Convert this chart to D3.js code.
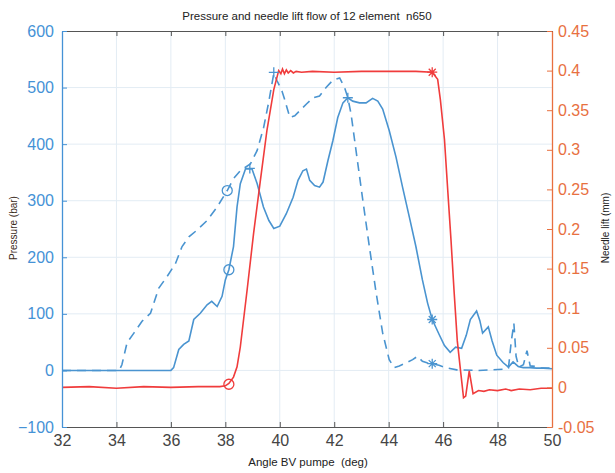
<!DOCTYPE html>
<html><head><meta charset="utf-8">
<script src="https://cdn.jsdelivr.net/npm/d3@7/dist/d3.min.js"></script>
<style>body{margin:0;background:#fff}svg{display:block}text{white-space:pre}</style>
</head><body><svg id="c" width="615" height="473"></svg>
<script>
// ---- data ----
const xTicks = [32,34,36,38,40,42,44,46,48,50];
const pTicks = [-100,0,100,200,300,400,500,600];
const lTicks = [-0.05,0,0.05,0.1,0.15,0.2,0.25,0.3,0.35,0.4,0.45];

const solidDeg = [32,36.0,36.1,36.29,36.47,36.66,36.84,37.08,37.33,37.5,37.7,37.88,38.0,38.13,38.3,38.43,38.55,38.74,38.98,39.17,39.4,39.6,39.78,40.0,40.24,40.49,40.67,40.85,40.98,41.1,41.28,41.46,41.59,41.77,41.95,42.13,42.32,42.5,42.68,42.93,43.17,43.41,43.6,43.78,44.02,44.27,44.51,44.76,45.0,45.24,45.43,45.6,45.85,46.05,46.26,46.46,46.68,46.85,47.0,47.23,47.35,47.45,47.66,47.8,47.97,48.2,48.4,48.57,48.76,48.94,49.19,49.43,49.68,50];
const solidP   = [0,0,5,37,46,52,90,101,116,122,113,131,160,178,219,289,330,356,356,330,289,265,251,255,277,306,336,353,356,336,327,324,333,371,406,447,473,482,476,473,473,481,476,462,424,377,324,271,219,160,119,90,64,44,32,41,39,62,90,105,88,66,77,52,27,14,6,15,7,5,5,4,4,3];

const dashDeg = [32,34.1,34.2,34.39,34.64,34.94,35.25,35.55,35.86,36.17,36.41,36.66,36.96,37.33,37.7,38.07,38.3,38.55,38.92,39.17,39.41,39.6,39.78,39.9,40.08,40.18,40.37,40.55,40.73,40.98,41.22,41.46,41.7,41.95,42.2,42.38,42.5,42.62,42.8,43.05,43.29,43.54,43.78,44.02,44.2,44.39,44.63,44.88,45.06,45.24,45.43,45.6,45.85,46.1,46.5,47.3,48.2,48.4,48.5,48.6,48.68,48.78,48.95,49.08,49.2,49.4,49.6,50];
const dashP   = [0,0,10,49,66,87,101,145,166,189,219,236,248,265,289,318,339,353,365,389,430,476,525,512,494,479,447,450,459,471,482,485,500,513,517,500,482,453,389,301,219,137,66,19,5,8,13,19,25,16,13,12,9,5,1,0,2,4,50,83,25,6,10,35,8,7,4,4];

const liftDeg = [32,33,34,35,36,37,37.8,38.0,38.13,38.3,38.43,38.55,38.8,39.04,39.29,39.53,39.78,39.96,40.04,40.1,40.17,40.24,40.31,40.4,40.5,40.6,40.8,41.2,42,43,44,45,45.6,45.8,45.9,46.05,46.17,46.29,46.4,46.52,46.65,46.75,46.83,46.96,47.1,47.3,47.5,47.7,48.0,48.3,48.5,48.8,49.2,49.6,50];
const liftMM  = [0,0.001,-0.001,0.001,0,0.001,0.001,0.002,0.005,0.013,0.026,0.051,0.123,0.195,0.262,0.325,0.376,0.400,0.396,0.402,0.396,0.401,0.397,0.400,0.397,0.399,0.398,0.399,0.398,0.399,0.399,0.399,0.398,0.389,0.363,0.313,0.249,0.186,0.123,0.059,0.018,-0.013,-0.011,0.021,-0.008,-0.004,-0.005,-0.003,-0.004,-0.002,-0.004,-0.002,-0.003,-0.001,-0.001];

// markers: [deg, value, type]
const solidMarkers = [[38.13,178,"o"],[38.9,357,"+"],[42.5,482,"+"],[45.6,90,"*"]];
const dashMarkers  = [[38.07,318,"o"],[39.78,527,"+"],[45.6,12,"*"]];
const liftMarkers  = [[38.13,0.004,"o"],[45.6,0.398,"*"]];

// ---- layout ----
const L = 62, R = 552, T = 31, B = 427;
const blue = "#4a94d0", red = "#f03c3c", blueAx = "#4592d6", orangeAx = "#e8703f";
const svg = d3.select("#c");
const x = d3.scaleLinear().domain([32,50]).range([L,R]);
const yP = d3.scaleLinear().domain([-100,600]).range([B,T]);
const yL = d3.scaleLinear().domain([-0.05,0.45]).range([B,T]);

// grid
const g = svg.append("g");
g.selectAll("line.vx").data(xTicks.slice(1,-1)).join("line")
  .attr("x1",d=>x(d)).attr("x2",d=>x(d)).attr("y1",T).attr("y2",B)
  .attr("stroke","#e3ecf4").attr("stroke-width",1);
g.selectAll("line.hy").data(pTicks.slice(1,-1)).join("line")
  .attr("y1",d=>yP(d)).attr("y2",d=>yP(d)).attr("x1",L).attr("x2",R)
  .attr("stroke","#e3ecf4").attr("stroke-width",1);

// lines
const lineP = (xs,ys)=>d3.line().x((d,i)=>x(xs[i])).y((d,i)=>yP(ys[i]))(xs);
svg.append("path").attr("d",lineP(dashDeg,dashP)).attr("fill","none").attr("stroke",blue)
  .attr("stroke-width",1.6).attr("stroke-dasharray","9,6");
svg.append("path").attr("d",lineP(solidDeg,solidP)).attr("fill","none").attr("stroke",blue)
  .attr("stroke-width",1.6);
const liftLine = d3.line().x((d,i)=>x(liftDeg[i])).y((d,i)=>yL(liftMM[i]));
svg.append("path").attr("d",liftLine(liftDeg)).attr("fill","none").attr("stroke",red)
  .attr("stroke-width",1.6);

// markers
function marker(px,py,type,color){
  const s = 5;
  if(type==="o"){
    svg.append("circle").attr("cx",px).attr("cy",py).attr("r",s).attr("fill","none").attr("stroke",color).attr("stroke-width",1.3);
  } else {
    let d = `M${px-s},${py}H${px+s}M${px},${py-s}V${py+s}`;
    if(type==="*") d += `M${px-3.5},${py-3.5}L${px+3.5},${py+3.5}M${px-3.5},${py+3.5}L${px+3.5},${py-3.5}`;
    svg.append("path").attr("d",d).attr("stroke",color).attr("stroke-width",1.3).attr("fill","none");
  }
}
solidMarkers.forEach(m=>marker(x(m[0]),yP(m[1]),m[2],blue));
dashMarkers.forEach(m=>marker(x(m[0]),yP(m[1]),m[2],blue));
liftMarkers.forEach(m=>marker(x(m[0]),yL(m[1]),m[2],red));

// axes
const font = "Liberation Sans, Arial, sans-serif";
const axB = svg.append("g").attr("transform",`translate(0,${B})`)
  .call(d3.axisBottom(x).tickValues(xTicks).tickSizeInner(-5).tickSizeOuter(0).tickPadding(8).tickFormat(d3.format("d")));
axB.select(".domain").attr("stroke","#555");
axB.selectAll("line").attr("stroke","#555");
axB.selectAll("text").attr("fill","#444").style("font-family",font).style("font-size","16px");

const axT = svg.append("g").attr("transform",`translate(0,${T})`)
  .call(d3.axisTop(x).tickValues(xTicks).tickSizeInner(-5).tickSizeOuter(0).tickFormat(""));
axT.select(".domain").attr("stroke","#555");
axT.selectAll("line").attr("stroke","#555");

const axL = svg.append("g").attr("transform",`translate(${L},0)`)
  .call(d3.axisLeft(yP).tickValues(pTicks).tickSizeInner(-5).tickSizeOuter(0).tickPadding(8).tickFormat(d3.format("d")));
axL.select(".domain").attr("stroke",blueAx).attr("stroke-width",1.3);
axL.selectAll("line").attr("stroke",blueAx);
axL.selectAll("text").attr("fill",blueAx).style("font-family",font).style("font-size","16px");

const axR = svg.append("g").attr("transform",`translate(${R},0)`)
  .call(d3.axisRight(yL).tickValues(lTicks).tickSizeInner(-5).tickSizeOuter(0).tickPadding(6).tickFormat(d=>String(+d.toFixed(2))));
axR.select(".domain").attr("stroke",orangeAx).attr("stroke-width",1.3);
axR.selectAll("line").attr("stroke",orangeAx);
axR.selectAll("text").attr("fill",orangeAx).style("font-family",font).style("font-size","16px");

// titles
svg.append("text").attr("x",(L+R)/2).attr("y",20).attr("text-anchor","middle")
  .style("font-family",font).style("font-size","11.5px").attr("fill","#222")
  .text("Pressure and needle lift flow of 12 element  n650");
svg.append("text").attr("x",(L+R)/2+1).attr("y",466).attr("text-anchor","middle")
  .style("font-family",font).style("font-size","11.5px").attr("fill","#222")
  .text("Angle BV pumpe  (deg)");
svg.append("text").attr("transform",`translate(17,228) rotate(-90)`).attr("text-anchor","middle")
  .style("font-family",font).style("font-size","10px").attr("fill","#3a2a1a")
  .text("Pressure (bar)");
svg.append("text").attr("transform",`translate(609,228) rotate(-90)`).attr("text-anchor","middle")
  .style("font-family",font).style("font-size","10px").attr("fill","#222")
  .text("Needle lift (mm)");
</script></body></html>
